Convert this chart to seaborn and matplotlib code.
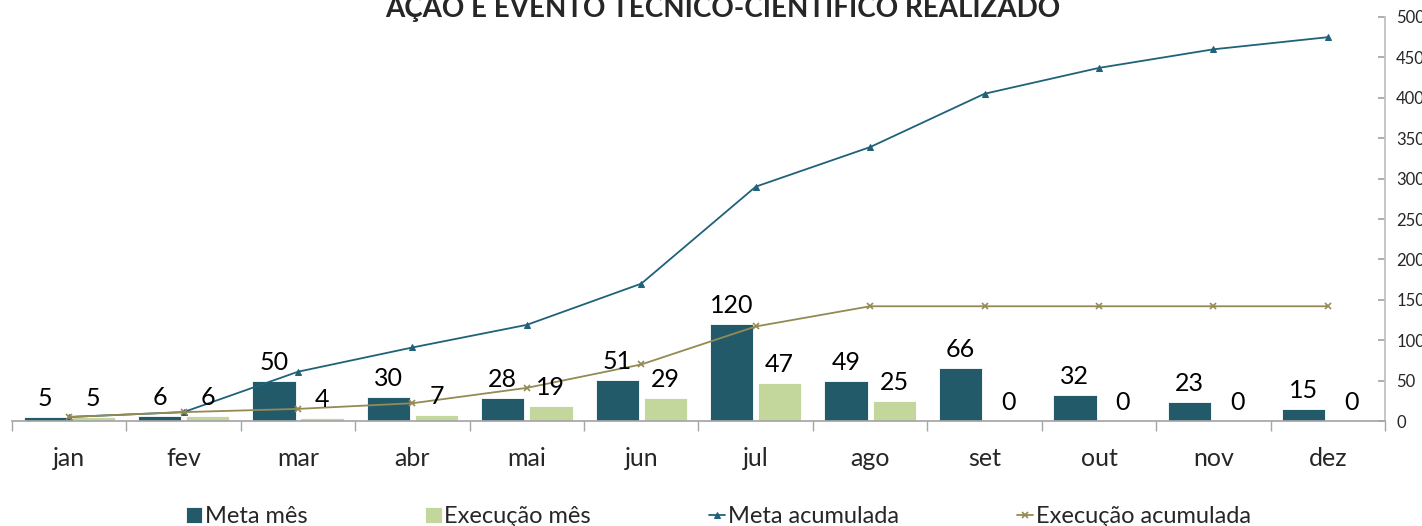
import pandas as pd
import numpy as np
import matplotlib.pyplot as plt
import seaborn as sns
from matplotlib.ticker import MultipleLocator, FixedLocator

sns.set_theme(style="white")
plt.rcParams['font.family'] = ['Lato', 'DejaVu Sans']

# Data
months = ['jan', 'fev', 'mar', 'abr', 'mai', 'jun', 'jul', 'ago', 'set', 'out', 'nov', 'dez']
meta_mes = [5, 6, 50, 30, 28, 51, 120, 49, 66, 32, 23, 15]
execucao_mes = [5, 6, 4, 7, 19, 29, 47, 25, 0, 0, 0, 0]
meta_acumulada = [5, 11, 61, 91, 119, 170, 290, 339, 405, 437, 460, 475]
execucao_acumulada = [5, 11, 15, 22, 41, 70, 117, 142, 142, 142, 142, 142]

dark = '#235A6A'
light = '#C3D69B'
line_meta = '#1F6279'
line_exec = '#948A54'

bars = pd.DataFrame({
    'mes': months * 2,
    'valor': meta_mes + execucao_mes,
    'serie': ['Meta mês'] * 12 + ['Execução mês'] * 12,
})

fig = plt.figure(figsize=(14.22, 5.26), dpi=100)
ax = fig.add_axes([0.0084, 0.1996, 0.9656, 0.7681])

sns.barplot(data=bars, x='mes', y='valor', hue='serie', order=months,
            palette=[dark, light], width=0.84, gap=0.1, ax=ax,
            saturation=1, edgecolor='white', linewidth=0.6)

xs = np.arange(len(months))
sns.lineplot(x=xs, y=meta_acumulada, color=line_meta, marker='^', markersize=5,
             markeredgecolor=line_meta, linewidth=1.3, label='Meta acumulada', ax=ax)
sns.lineplot(x=xs, y=execucao_acumulada, color=line_exec, marker='x', markersize=5,
             markeredgecolor=line_exec, markeredgewidth=1.2, linewidth=1.3,
             label='Execução acumulada', ax=ax)

# value labels above bars
for cont in ax.containers:
    ax.bar_label(cont, padding=5, fontsize=18, color='black')

ax.set_xlim(-0.5, 11.5)
ax.set_ylim(0, 500)
ax.set_xlabel('')
ax.set_ylabel('')

ax.yaxis.tick_right()
ax.yaxis.set_major_locator(MultipleLocator(50))
ax.tick_params(axis='y', which='major', direction='in', length=5, color='#A6A6A6',
               labelsize=12, pad=8, right=True, left=False)

ax.xaxis.set_minor_locator(FixedLocator(np.arange(-0.5, 12, 1)))
ax.tick_params(axis='x', which='major', length=0, labelsize=18, pad=19)
ax.tick_params(axis='x', which='minor', length=7, direction='out', color='#A6A6A6', bottom=True)
ax.set_xticks(xs)
ax.set_xticklabels(months)

for side in ['top', 'left']:
    ax.spines[side].set_visible(False)
ax.spines['bottom'].set_color('#A6A6A6')
ax.spines['right'].set_color('#BFBFBF')

handles, labels = ax.get_legend_handles_labels()
ax.get_legend().remove()
order = ['Meta mês', 'Execução mês', 'Meta acumulada', 'Execução acumulada']
hmap = dict(zip(labels, handles))
fig.legend([hmap[k] for k in order], order, loc='lower center', ncol=4,
           bbox_to_anchor=(0.505, -0.043), frameon=False, fontsize=17,
           handlelength=0.7, handleheight=0.7, handletextpad=0.1,
           columnspacing=5.0)

fig.text(0.508, 0.9677, 'AÇÃO E EVENTO TÉCNICO-CIENTÍFICO REALIZADO',
         ha='center', va='baseline', fontsize=20, fontweight='bold')

fig.savefig('out.png', dpi=100)
